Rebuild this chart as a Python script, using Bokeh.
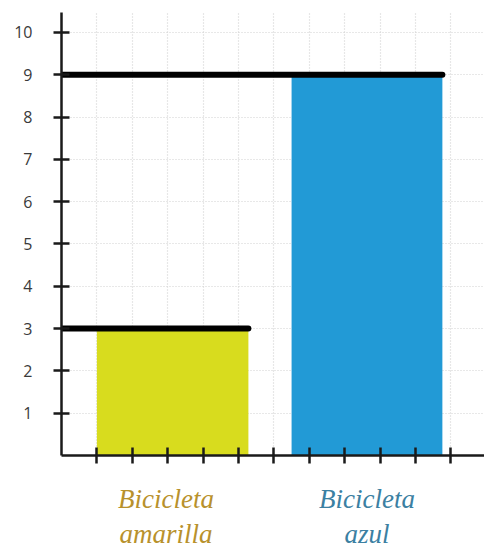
from bokeh.plotting import figure
from bokeh.layouts import column
from bokeh.models import Range1d, FixedTicker, ColumnDataSource
from bokeh.core.properties import value
from bokeh.embed import file_html
from bokeh.resources import INLINE

# Data
categories = ["Bicicleta\namarilla", "Bicicleta\nazul"]
values = [3, 9]
bar_left = [1.0, 6.5]
bar_right = [5.28, 10.76]
bar_colors = ["#d8dc1e", "#229ad6"]
label_colors = ["#b8912c", "#3b80a2"]
y_ticks = [1, 2, 3, 4, 5, 6, 7, 8, 9, 10]
x_ticks = [1, 2, 3, 4, 5, 6, 7, 8, 9, 10, 11]

p = figure(width=484, height=485, output_backend="svg", toolbar_location=None,
           x_range=Range1d(0, 11.95), y_range=Range1d(0, 10.47),
           min_border_left=61, min_border_right=0, min_border_top=12, min_border_bottom=30)
p.outline_line_color = None

# grid
for g in (p.xgrid, p.ygrid):
    g.grid_line_color = "#d0d0d0"
    g.grid_line_dash = "1 2"
    g.grid_line_width = 1.2
p.xgrid.ticker = FixedTicker(ticks=x_ticks)
p.ygrid.ticker = FixedTicker(ticks=y_ticks)

# axes
p.yaxis.ticker = FixedTicker(ticks=y_ticks)
p.xaxis.ticker = FixedTicker(ticks=x_ticks)
for ax in (p.xaxis, p.yaxis):
    ax.axis_line_color = "#1a1a1a"
    ax.axis_line_width = 2.5
    ax.major_tick_line_color = "#1a1a1a"
    ax.major_tick_line_width = 2.5
    ax.major_tick_in = 8
    ax.major_tick_out = 8
    ax.minor_tick_line_color = None
p.xaxis.major_label_overrides = {t: "" for t in x_ticks}
p.yaxis.major_label_text_font_size = "16px"
p.yaxis.major_label_text_color = "#3a3a3a"
p.yaxis.major_label_text_font = "Open Sans"
p.yaxis.major_label_standoff = 21

src = ColumnDataSource(dict(left=bar_left, right=bar_right, top=values,
                            bottom=[0, 0], color=bar_colors, x0=[0, 0]))

p.quad(left="left", right="right", bottom="bottom", top="top", color="color",
       line_color=None, source=src)
p.segment(x0="x0", y0="top", x1="right", y1="top", line_color="black",
          line_width=6, line_cap="round", source=src)

# category labels in a strip below, sharing the x scale
p2 = figure(width=484, height=64, output_backend="svg", toolbar_location=None,
            x_range=p.x_range, y_range=Range1d(0, 64),
            min_border_left=61, min_border_right=0, min_border_top=0, min_border_bottom=0)
p2.outline_line_color = None
p2.axis.visible = False
p2.grid.visible = False
lsrc = ColumnDataSource(dict(cx=[2.95, 8.63], cy=[33, 33], cat=categories, lc=label_colors))
p2.text(x="cx", y="cy", text="cat", source=lsrc, text_color="lc",
        text_align="center", text_baseline="middle",
        text_font=value("Liberation Serif"), text_font_style="italic",
        text_font_size="27px", text_line_height=1.15)

layout = column(p, p2, spacing=0)
open("out.html", "w").write(file_html(layout, INLINE))
